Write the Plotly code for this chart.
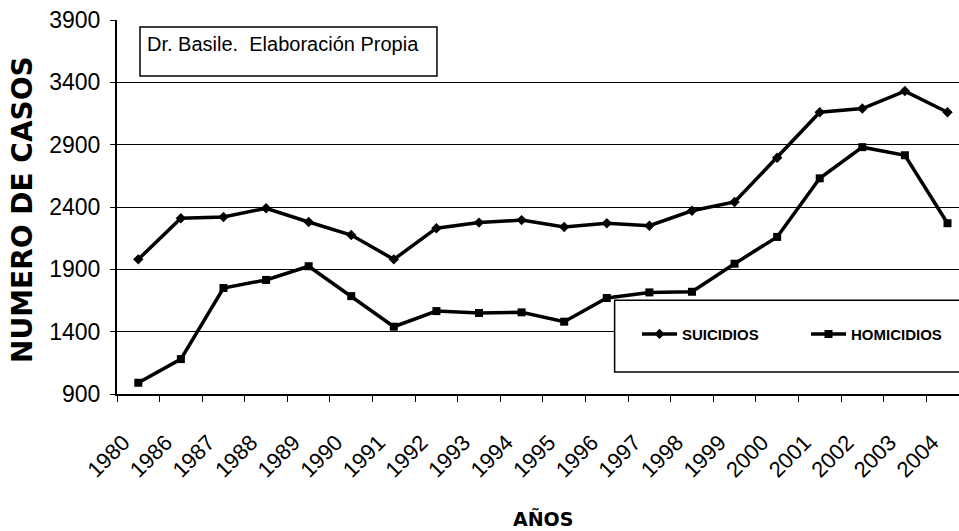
import plotly.graph_objects as go

years = ["1980", "1986", "1987", "1988", "1989", "1990", "1991", "1992", "1993", "1994",
         "1995", "1996", "1997", "1998", "1999", "2000", "2001", "2002", "2003", "2004"]
suicidios = [1980, 2310, 2320, 2390, 2280, 2175, 1980, 2230, 2275, 2295,
             2240, 2270, 2250, 2370, 2440, 2795, 3160, 3190, 3330, 3160]
homicidios = [990, 1180, 1750, 1815, 1925, 1685, 1440, 1565, 1550, 1555,
              1480, 1670, 1715, 1720, 1945, 2160, 2630, 2880, 2815, 2270]
y_ticks = [900, 1400, 1900, 2400, 2900, 3400, 3900]

SANS = "Liberation Sans, Arial, sans-serif"
BOLD = "DejaVu Sans, Arial, sans-serif"

fig = go.Figure()
fig.add_trace(go.Scatter(
    x=years, y=suicidios, name="SUICIDIOS", mode="lines+markers",
    line=dict(color="black", width=3.5),
    marker=dict(symbol="diamond", size=8, color="black"),
))
fig.add_trace(go.Scatter(
    x=years, y=homicidios, name="HOMICIDIOS", mode="lines+markers",
    line=dict(color="black", width=3.5),
    marker=dict(symbol="square", size=8, color="black"),
))

fig.update_layout(
    width=959, height=531,
    margin=dict(l=117, r=0, t=20, b=137, autoexpand=False),
    paper_bgcolor="white", plot_bgcolor="white",
    font=dict(family=SANS, color="black"),
    showlegend=True,
    hovermode=False,
    legend=dict(
        orientation="h", x=0.6176, y=0.16, xanchor="left", yanchor="middle",
        bgcolor="rgba(0,0,0,0)", borderwidth=0,
        font=dict(family=SANS, size=15, color="black", weight="bold"),
        entrywidth=119, itemwidth=35,
    ),
    xaxis=dict(
        type="category", range=[-0.5, 19.27], automargin=False,
        tickson="boundaries", ticks="outside", ticklen=6, tickcolor="black", tickwidth=1,
        showgrid=False, showline=True, linecolor="black", linewidth=2,
        tickangle=-45, tickfont=dict(family=SANS, size=22, color="black"),
        ticklabelstandoff=25, ticklabelshift=-15,
    ),
    yaxis=dict(
        range=[900, 3900], tickvals=y_ticks, ticktext=[str(v) for v in y_ticks],
        automargin=False,
        ticks="outside", ticklen=5, tickcolor="black",
        showgrid=True, gridcolor="black", gridwidth=1.4,
        showline=True, linecolor="black", linewidth=2, zeroline=False,
        tickfont=dict(family=SANS, size=23, color="black"),
        ticklabelstandoff=5,
    ),
    shapes=[
        dict(type="rect", xref="paper", yref="paper", x0=0.0273, x1=0.380, y0=0.850, y1=0.981,
             line=dict(color="black", width=1.5), fillcolor="white", layer="above"),
        dict(type="rect", xref="paper", yref="paper", x0=0.591, x1=1.02, y0=0.0588, y1=0.251,
             line=dict(color="black", width=1.5), fillcolor="white", layer="above"),
    ],
    annotations=[
        dict(text="Dr. Basile.  Elaboración Propia", xref="paper", yref="paper",
             x=0.0333, y=0.936, xanchor="left", yanchor="middle", showarrow=False,
             font=dict(family=SANS, size=20, color="black")),
        dict(text="<b>AÑOS</b>", xref="paper", yref="paper", x=0.506, y=-0.332,
             xanchor="center", yanchor="middle", showarrow=False,
             font=dict(family=BOLD, size=19, color="black")),
        dict(text="<b>NUMERO DE CASOS</b>", xref="paper", yref="paper", x=-0.1116, y=0.492,
             xanchor="center", yanchor="middle", showarrow=False, textangle=-90,
             font=dict(family=BOLD, size=28, color="black")),
    ],
)

fig.write_html(
    "out.html",
    config={"displayModeBar": False},
    post_script="document.body.style.margin='0';document.body.style.overflow='hidden';",
)
